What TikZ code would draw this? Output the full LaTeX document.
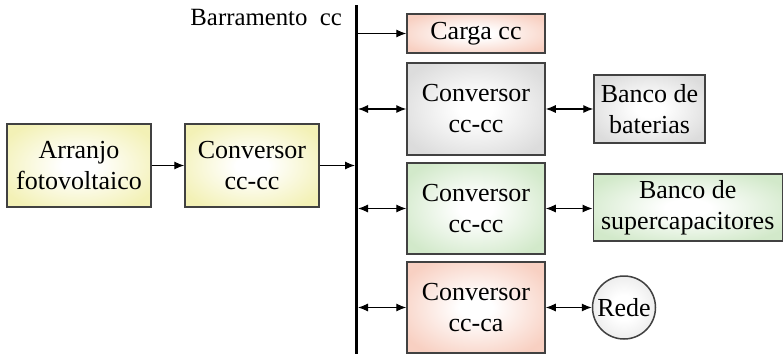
\documentclass[tikz,border=0pt]{standalone}
\usepackage{fontspec}
\setmainfont{Liberation Serif}
\usetikzlibrary{arrows.meta}
\definecolor{edgegray}{RGB}{65,65,65}
\definecolor{pvyellow}{RGB}{243,241,182}
\definecolor{loadpink}{RGB}{248,208,194}
\definecolor{batgray}{RGB}{220,220,220}
\definecolor{capgreen}{RGB}{210,233,202}
\definecolor{gridgray}{RGB}{234,234,234}
% soft glow fills: white in the middle, the block colour towards the border
\pgfdeclareradialshading{glowyellow}{\pgfpoint{0bp}{0bp}}{color(0bp)=(white); color(6bp)=(white); color(30bp)=(pvyellow); color(50bp)=(pvyellow)}
\pgfdeclareradialshading{glowpink}{\pgfpoint{0bp}{0bp}}{color(0bp)=(white); color(6bp)=(white); color(30bp)=(loadpink); color(50bp)=(loadpink)}
\pgfdeclareradialshading{glowgray}{\pgfpoint{0bp}{0bp}}{color(0bp)=(white); color(6bp)=(white); color(30bp)=(batgray); color(50bp)=(batgray)}
\pgfdeclareradialshading{glowgreen}{\pgfpoint{0bp}{0bp}}{color(0bp)=(white); color(6bp)=(white); color(30bp)=(capgreen); color(50bp)=(capgreen)}
\pgfdeclareradialshading{glowgrid}{\pgfpoint{0bp}{0bp}}{color(0bp)=(white); color(10bp)=(white); color(28bp)=(gridgray); color(50bp)=(gridgray)}
\tikzset{
  blk/.style={draw=edgegray, line width=0.75pt,
    inner sep=0pt, align=center, font=\fontsize{13}{15.5}\selectfont},
  conn/.style={line width=0.55pt, -{Latex[length=5pt,width=4pt]}},
  biconn/.style={line width=0.55pt, {Latex[length=5pt,width=4pt]}-{Latex[length=5pt,width=4pt]}},
}
\begin{document}
\begin{tikzpicture}[x=0.5pt,y=-0.5pt]
\useasboundingbox (0,0) rectangle (784,354);

% source side
\node[blk, shading=glowyellow, minimum width=72pt, minimum height=41.5pt] (pv) at (79,165.5) {Arranjo\\fotovoltaico};
\node[blk, shading=glowyellow, minimum width=67pt, minimum height=41.5pt] (dc1) at (252,165.5) {Conversor\\cc-cc};

% dc bus
\coordinate (bustop) at (356.5,5);
\coordinate (busbot) at (356.5,354);
\draw[line width=1.5pt] (bustop) -- (busbot);
\node[anchor=base east, font=\fontsize{12.4}{14}\selectfont] (buslabel) at (349,25) {Barramento\ \ cc};

% loads and storage
\node[blk, shading=glowpink, minimum width=69pt, minimum height=19.5pt] (load) at (476,33.5) {Carga cc};
\node[blk, shading=glowgray, minimum width=69pt, minimum height=46pt] (dc2) at (476,109) {Conversor\\cc-cc};
\node[blk, shading=glowgray, minimum width=55.5pt, minimum height=34pt] (bat) at (649.5,109) {Banco de\\baterias};
\node[blk, shading=glowgreen, minimum width=69pt, minimum height=45.5pt] (dc3) at (476,208.5) {Conversor\\cc-cc};
\node[blk, shading=glowgreen, minimum width=94.5pt, minimum height=33.5pt] (cap) at (687.75,207.5) {Banco de\\supercapacitores};
\node[blk, shading=glowpink, minimum width=69pt, minimum height=45.5pt] (inv) at (476,307.5) {Conversor\\cc-ca};
\node[blk, circle, shading=glowgrid, minimum size=31.5pt] (grid) at (624,307.5) {Rede};

% connectors
\draw[conn] (pv.east) -- (dc1.west);
\draw[conn] (dc1.east) -- ([xshift=-0.75pt]dc1.east -| bustop);
\draw[conn] ([xshift=0.75pt]bustop |- load.west) -- (load.west);
\draw[biconn] ([xshift=0.75pt]bustop |- dc2.west) -- (dc2.west);
\draw[biconn] ([xshift=0.75pt]bustop |- dc3.west) -- (dc3.west);
\draw[biconn] ([xshift=0.75pt]bustop |- inv.west) -- (inv.west);
\draw[biconn] (dc2.east) -- (bat.west);
\draw[biconn] (dc3.east) -- (dc3.east -| cap.west);
\draw[biconn] (inv.east) -- (grid.west);
\end{tikzpicture}
\end{document}
